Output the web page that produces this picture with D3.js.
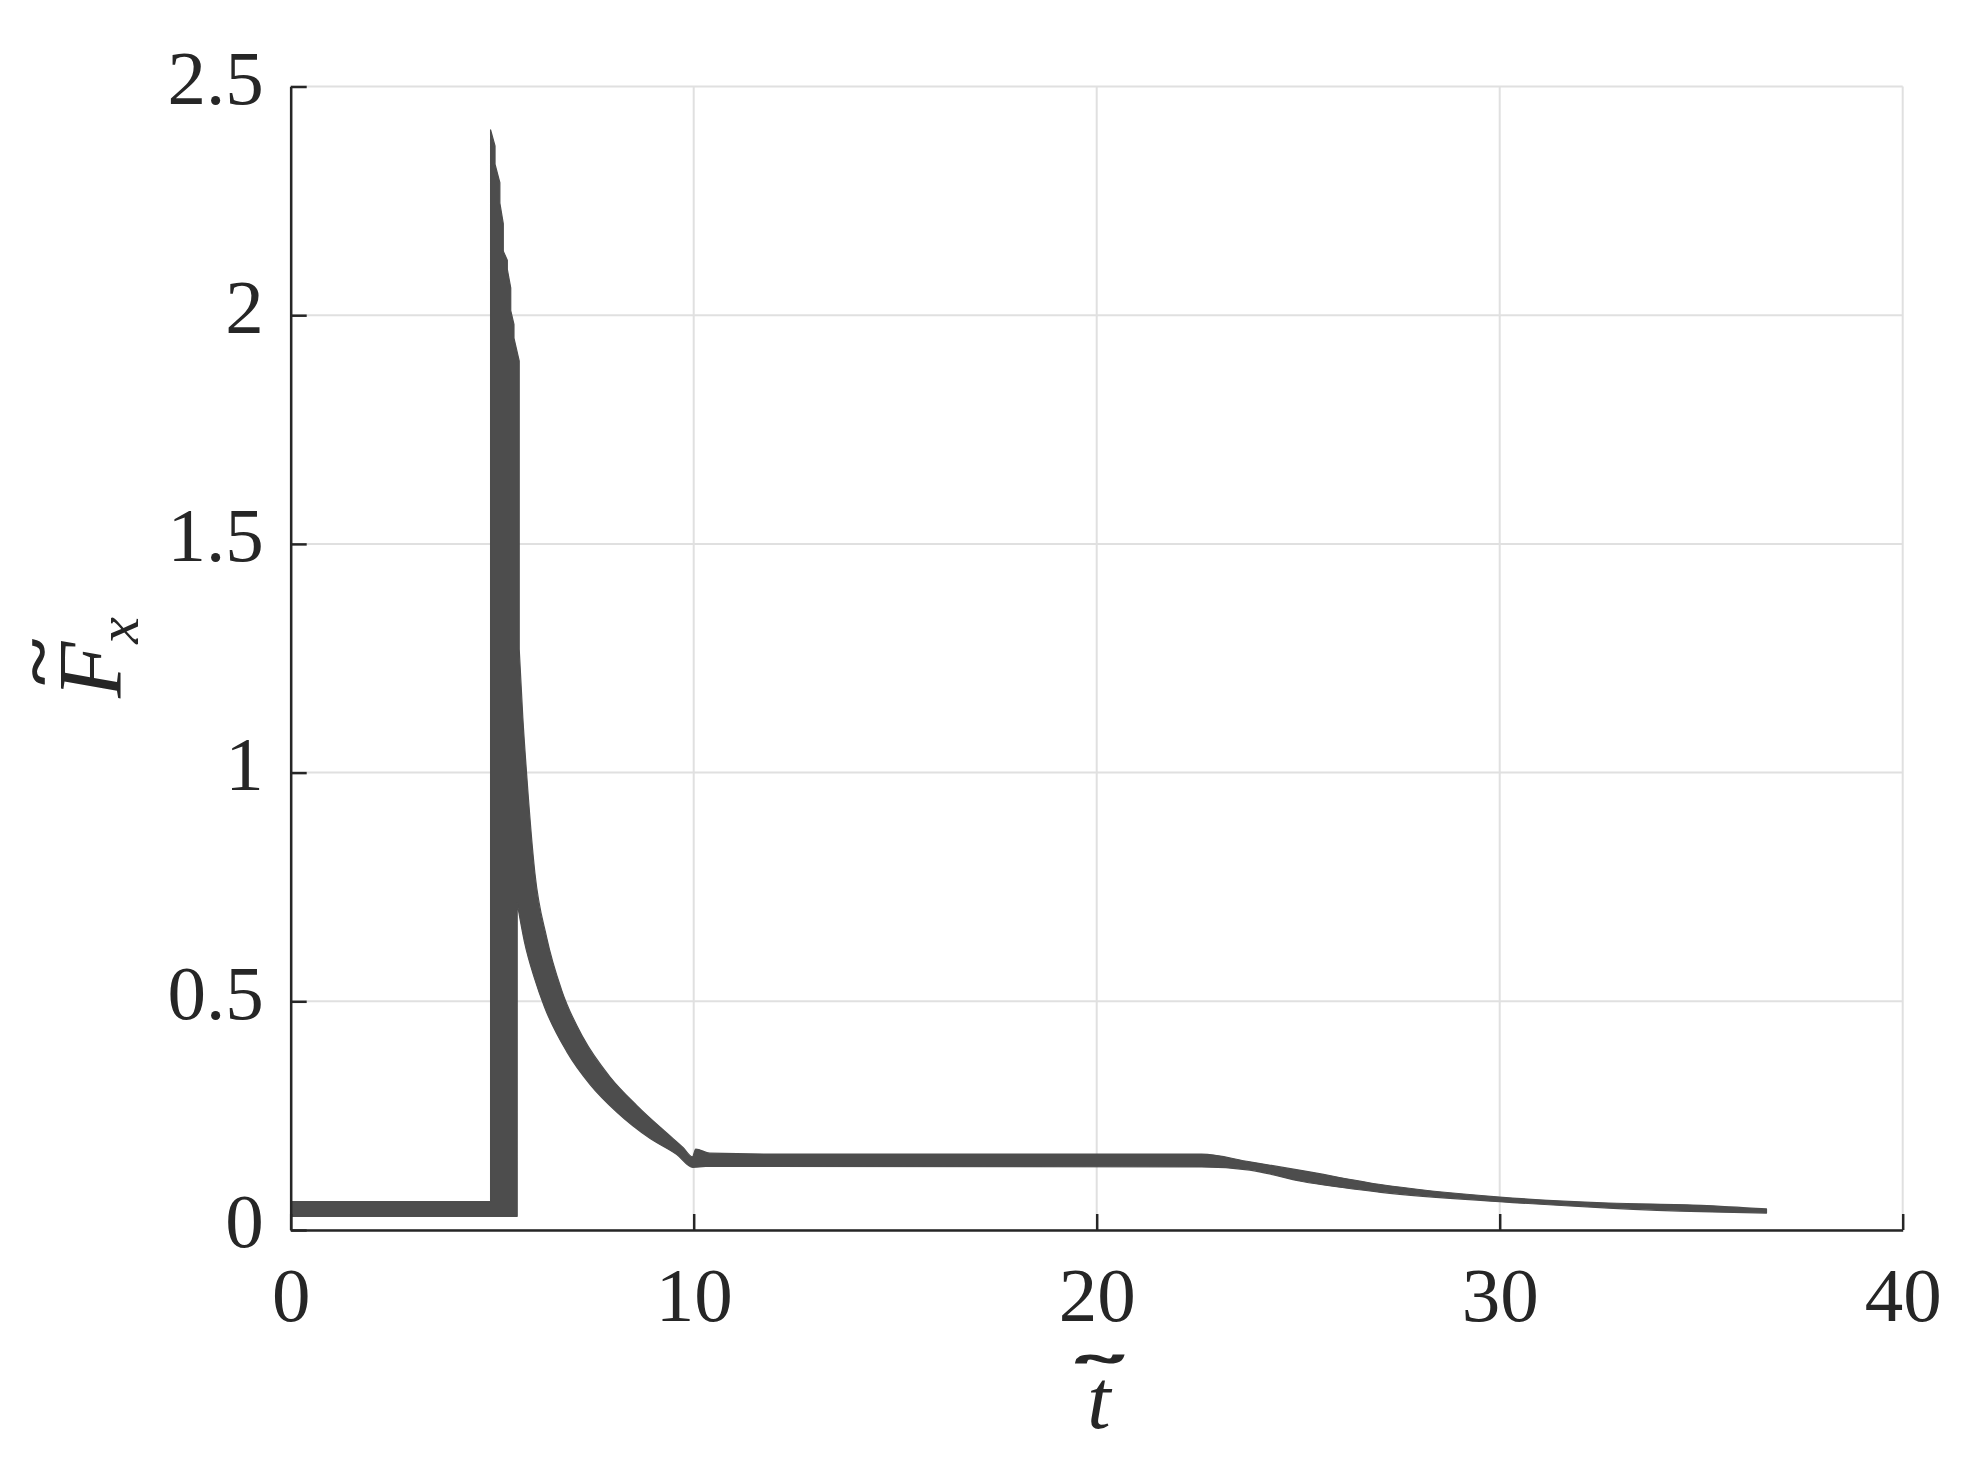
<!DOCTYPE html>
<html>
<head>
<meta charset="utf-8">
<script src="https://cdn.jsdelivr.net/npm/d3@7"></script>
<style>
  body { margin: 0; background: #fff; }
  svg { display: block; background: #fff; }
  text { font-family: 'Liberation Serif', 'DejaVu Serif', serif; fill: #262626; }
</style>
</head>
<body>
<svg></svg>
<script>
const xTicks = [0, 10, 20, 30, 40];
const yTicks = [0, 0.5, 1, 1.5, 2, 2.5];

// the curves overlap into one thick bundle, so it is drawn from its outline
// top edge of the bundle, left to right (start jump and peaks)
const peakT = [0, 4.96, 4.96, 5.07, 5.07, 5.19, 5.19, 5.275, 5.275, 5.375, 5.375,
  5.46, 5.46, 5.54, 5.54, 5.67, 5.67];
const peakF = [0.062, 0.062, 2.405, 2.37, 2.33, 2.29, 2.245, 2.2, 2.14, 2.12, 2.1,
  2.06, 2.01, 1.98, 1.95, 1.9, 1.27];
// top edge, decay and tail
const upperT = [5.67, 5.76, 5.86, 6.06, 6.35, 6.72, 7.26, 7.92, 8.59, 9.33, 9.74,
  9.97, 10.05, 10.4, 12, 22.6, 23.8, 25.1, 27.0, 30.0, 32.7, 35.0, 36.62];
const upperF = [1.27, 1.12, 0.99, 0.78, 0.64, 0.525, 0.42, 0.335, 0.272, 0.212, 0.18,
  0.16, 0.177, 0.168, 0.166, 0.166, 0.149, 0.13, 0.1, 0.072, 0.059, 0.054, 0.046];
// bottom edge, left to right
const baseT = [0, 5.62, 5.62];
const baseF = [0.03, 0.03, 0.715];
const lowerT = [5.62, 5.8, 6.05, 6.3, 6.85, 7.43, 8.09, 8.92, 9.58, 9.98, 10.3,
  22.6, 23.8, 25.1, 27.0, 30.0, 32.7, 35.0, 36.62];
const lowerF = [0.715, 0.63, 0.55, 0.487, 0.39, 0.318, 0.258, 0.2, 0.165, 0.137,
  0.139, 0.138, 0.131, 0.106, 0.083, 0.062, 0.048, 0.04, 0.037];

function drawChart() {
  const width = 1964;
  const height = 1459;

  const svg = d3.select('svg').attr('width', width).attr('height', height);

  const x = d3.scaleLinear().domain([0, 40]).range([290.7, 1902.7]);
  const y = d3.scaleLinear().domain([0, 2.5]).range([1230, 86.5]);

  // grid
  svg
    .append('g')
    .selectAll('line')
    .data(xTicks)
    .enter()
    .append('line')
    .attr('x1', (d) => x(d))
    .attr('x2', (d) => x(d))
    .attr('y1', y(0))
    .attr('y2', y(2.5))
    .attr('stroke', '#e0e0e0')
    .attr('stroke-width', 2);

  svg
    .append('g')
    .selectAll('line')
    .data(yTicks)
    .enter()
    .append('line')
    .attr('x1', x(0))
    .attr('x2', x(40))
    .attr('y1', (d) => y(d))
    .attr('y2', (d) => y(d))
    .attr('stroke', '#e0e0e0')
    .attr('stroke-width', 2);

  // force bundle
  const pts = (ts, fs) => ts.map((t, i) => [t, fs[i]]);
  const sharp = d3
    .line()
    .x((d) => x(d[0]))
    .y((d) => y(d[1]));
  const smooth = d3
    .line()
    .x((d) => x(d[0]))
    .y((d) => y(d[1]))
    .curve(d3.curveMonotoneX);
  const join = (s) => s.replace(/^M/, 'L');

  const d =
    sharp(pts(peakT, peakF)) +
    join(smooth(pts(upperT, upperF))) +
    join(smooth(pts(lowerT, lowerF).reverse())) +
    join(sharp(pts(baseT, baseF).reverse())) +
    'Z';

  svg
    .append('path')
    .attr('d', d)
    .attr('fill', '#4d4d4d')
    .attr('stroke', '#4d4d4d')
    .attr('stroke-width', 1.2)
    .attr('stroke-linejoin', 'round');

  // axes
  const yAxis = d3
    .axisLeft(y)
    .tickValues(yTicks)
    .tickFormat((v) => String(v))
    .tickSizeInner(-16)
    .tickSizeOuter(0)
    .tickPadding(27);

  const xAxis = d3
    .axisBottom(x)
    .tickValues(xTicks)
    .tickFormat((v) => String(v))
    .tickSizeInner(-16)
    .tickSizeOuter(0)
    .tickPadding(36);

  const gy = svg
    .append('g')
    .attr('transform', 'translate(' + x(0) + ',0)')
    .call(yAxis);

  const gx = svg
    .append('g')
    .attr('transform', 'translate(0,' + y(0) + ')')
    .call(xAxis);

  [gx, gy].forEach((g) => {
    g.select('.domain').attr('stroke', '#262626').attr('stroke-width', 2.5);
    g.selectAll('.tick line').attr('stroke', '#262626').attr('stroke-width', 2.5);
    g.selectAll('.tick text')
      .attr('fill', '#262626')
      .style('font-family', "'Liberation Serif', serif")
      .style('font-size', '77px');
  });
  gy.selectAll('.tick text').attr('dy', '0.22em');

  // x label: t with a wide tilde, one text element
  const xt = svg
    .append('text')
    .attr('x', x(20) - 20)
    .attr('y', 1428)
    .style('font-size', '84px');
  xt.append('tspan').style('font-style', 'italic').text('t');
  xt.append('tspan')
    .attr('dx', -34)
    .attr('dy', -57)
    .attr('textLength', 46)
    .attr('lengthAdjust', 'spacingAndGlyphs')
    .attr('stroke', '#262626')
    .attr('stroke-width', 3.2)
    .attr('stroke-linecap', 'round')
    .style('font-size', '36px')
    .text('~');

  // y label: F with tilde and subscript x
  const yl = svg.append('g').attr('transform', 'translate(121,698) rotate(-90)');
  const ft = yl.append('text').attr('x', 0).attr('y', 0).style('font-size', '92px');
  ft.append('tspan').style('font-style', 'italic').text('F');
  ft.append('tspan')
    .attr('dx', -44)
    .attr('dy', -61)
    .attr('textLength', 48)
    .attr('lengthAdjust', 'spacingAndGlyphs')
    .attr('stroke', '#262626')
    .attr('stroke-width', 1.6)
    .style('font-size', '64px')
    .text('~');
  ft.append('tspan')
    .attr('dx', -6)
    .attr('dy', 78)
    .style('font-style', 'italic')
    .style('font-size', '60px')
    .text('x');
}

drawChart();
</script>
</body>
</html>
